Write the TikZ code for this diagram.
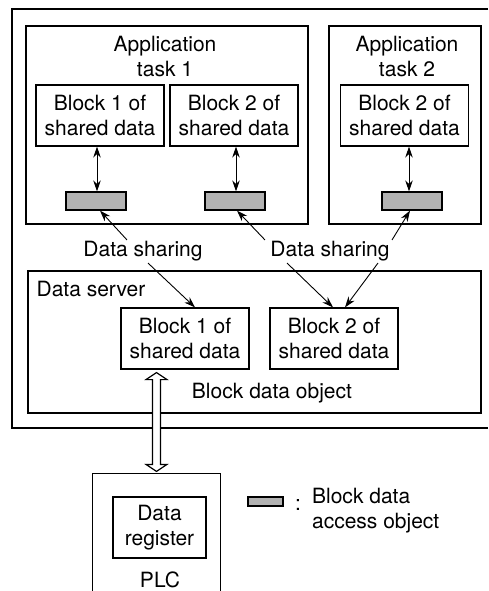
\documentclass[tikz,border=0pt]{standalone}
\usepackage{fontspec}
\setmainfont{TeX Gyre Heros}
\usetikzlibrary{arrows.meta}
\usetikzlibrary{calc}

\begin{document}
\begin{tikzpicture}[x=1pt,y=-1pt,line width=1.2pt,
  every node/.style={font=\fontsize{21}{25}\selectfont},
  blk/.style={draw,minimum width=128pt,minimum height=61pt,align=center,inner sep=0pt},
  acc/.style={draw,fill=gray!60,minimum width=60pt,minimum height=18pt,inner sep=0pt},
  dbl/.style={line width=0.9pt,{Stealth[length=11pt,width=7.5pt]}-{Stealth[length=11pt,width=7.5pt]}},
  sh/.style={line width=0.9pt,-{Stealth[length=11pt,width=7.5pt]}}]
\useasboundingbox (0,0) rectangle (488,591);

% outer frame, open to the right
\draw (488,9) -- (12,9) -- (12,428) -- (488,428);

\node[draw,minimum width=282pt,minimum height=198pt,inner sep=0pt] (t1) at (167,125) {};
\node[draw,minimum width=152pt,minimum height=198pt,inner sep=0pt] (t2) at (405,125) {};
\node[align=center] (t1lab) at (165,57) {Application\\task 1};
\node[align=center] (t2lab) at (407,57) {Application\\task 2};

\node[blk] (b11) at (100,115.5) {Block 1 of\\shared data};
\node[blk] (b12) at (234,115.5) {Block 2 of\\shared data};
\node[blk] (b22) at (404.5,115.5) {Block 2 of\\shared data};

\node[acc] (g1) at (96,201) {};
\node[acc] (g2) at (235,201) {};
\node[acc] (g3) at (412,201) {};

\draw[dbl] ([xshift=1pt]g1.north |- b11.south) -- ([xshift=1pt]g1.north);
\draw[dbl] ([xshift=1pt]g2.north |- b12.south) -- ([xshift=1pt]g2.north);
\draw[dbl] ([xshift=-3pt]g3.north |- b22.south) -- ([xshift=-3pt]g3.north);

\node[inner sep=1pt] (ds1) at (143,251.5) {Data sharing};
\node[inner sep=1pt] (ds2) at (330,251.5) {Data sharing};

% data server
\node[draw,minimum width=453pt,minimum height=142pt,inner sep=0pt] (srv) at (254.5,342) {};
\node[anchor=base west,inner sep=0pt] (srvlab) at (36,296) {Data server};
\node[blk] (dsb1) at (185,338.5) {Block 1 of\\shared data};
\node[blk] (dsb2) at (334,338.5) {Block 2 of\\shared data};
\node[anchor=base,inner sep=0pt] (bdo) at (272,398) {Block data object};

\draw[sh] ([xshift=-16pt]ds1.north) -- ([xshift=4pt]g1.south);
\draw[sh] ([xshift=5pt]ds1.south) -- ([xshift=10pt]dsb1.north);
\draw[sh] ([xshift=-65pt]ds2.north) -- ([xshift=2pt]g2.south);
\draw[sh] ([xshift=62pt]ds2.north) -- ([xshift=-2pt]g3.south);
\draw[sh] ([xshift=-43pt]ds2.south) -- ([xshift=-1pt]dsb2.north);
\draw[sh] ([xshift=48pt]ds2.south) -- ([xshift=11pt]dsb2.north);

% PLC, open at the bottom
\node[minimum width=127pt,minimum height=118pt,inner sep=0pt] (plc) at (156.5,533) {};
\draw (plc.south west) -- (plc.north west) -- (plc.north east) -- (plc.south east);
\node[blk,minimum width=93pt] (reg) at (159.5,527.5) {Data\\register};
\node[anchor=base,inner sep=0pt] (plclab) at (160,587) {PLC};

% hollow two-way arrow
\coordinate (pa) at ($(plc.north |- dsb1.south)+(0,3)$);
\coordinate (pb) at ($(plc.north)+(0,-2)$);
\draw[fill=white] (pa) -- ++(10.5,7) -- ++(-6.5,0) -- ($(pb)+(4,-7)$) -- ++(6.5,0) -- (pb)
  -- ++(-10.5,-7) -- ++(6.5,0) -- ($(pa)+(-4,7)$) -- ++(-6.5,0) -- cycle;

% legend
\node[acc,minimum width=35pt,minimum height=9pt] (lg) at (265.5,501.5) {};
\node[anchor=base,inner sep=0pt] (lgc) at (298,510) {:};
\node[anchor=north west,align=left,inner sep=0pt] (lgt) at (311.5,488) {Block data\\access object};
\end{tikzpicture}
\end{document}
